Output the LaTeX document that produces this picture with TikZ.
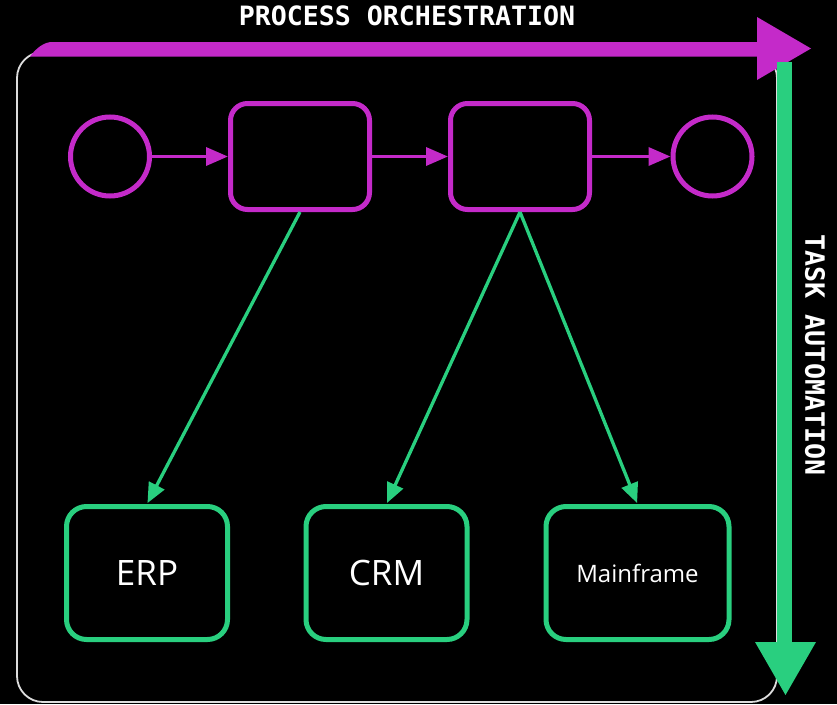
\documentclass[tikz,border=0pt]{standalone}
\usepackage{fontspec}
\setmainfont{Open Sans}
\newfontfamily\monob{DejaVu Sans Mono}[BoldFont={DejaVu Sans Mono Bold}]
\usetikzlibrary{arrows.meta}
\definecolor{mag}{HTML}{C42AC9}
\definecolor{grn}{HTML}{29CF7F}
\definecolor{frame}{HTML}{DDDDDD}
\tikzset{
  evt/.style={circle, draw=mag, line width=5, minimum size=79, inner sep=0},
  task/.style={rectangle, draw=mag, line width=5, rounded corners=17, minimum width=139, minimum height=106},
  sys/.style={rectangle, draw=grn, line width=5, rounded corners=20, minimum width=161, minimum height=133, text=white, inner sep=0},
  flow/.style={draw=mag, line width=3.5, -{Triangle[length=22,width=18]}},
  call/.style={draw=grn, line width=3.3, -{Triangle[length=20,width=17]}, shorten >=1},
  head/.style={text=white, font=\monob\bfseries\fontsize{26.6}{30}\selectfont, inner sep=0}
}
\begin{document}
\begin{tikzpicture}[x=1pt,y=-1pt]
\fill[black] (0,0) rectangle (837,704);
\useasboundingbox (0,0) rectangle (837,704);
% outer frame
\draw[frame, line width=1.8, rounded corners=26] (17,52) rectangle (777,702);
% orchestration band
\fill[mag] (30,56.5) .. controls (37,47) and (45,42) .. (52,42) -- (757,42) -- (757,17) -- (811,48.5) -- (757,80) -- (757,56.5) -- cycle;
% automation band
\fill[grn] (777,62) rectangle (792,642);
\fill[grn] (755,642) -- (816,642) -- (785.5,695) -- cycle;
\node[head] (po) at (407,16) {PROCESS ORCHESTRATION};
\node[head, rotate=-90] (ta) at (815,355) {TASK AUTOMATION};
% process
\node[evt] (s) at (110,156.5) {};
\node[task] (t1) at (300,156.5) {};
\node[task] (t2) at (520,156.5) {};
\node[evt] (e) at (712.5,156.5) {};
\draw[flow] (s) -- (t1);
\draw[flow] (t1) -- (t2);
\draw[flow] (t2) -- (e);
% systems
\node[sys, font=\fontsize{35}{40}\selectfont] (erp) at (147,573) {ERP};
\node[sys, font=\fontsize{35}{40}\selectfont] (crm) at (386.5,573) {CRM};
\node[sys, minimum width=183, font=\fontsize{24}{28}\selectfont] (mf) at (637.5,573) {Mainframe};
\draw[call] (t1.south) -- (erp.north);
\draw[call] (t2.south) -- (crm.north);
\draw[call] (t2.south) -- (mf.north);
\end{tikzpicture}
\end{document}
